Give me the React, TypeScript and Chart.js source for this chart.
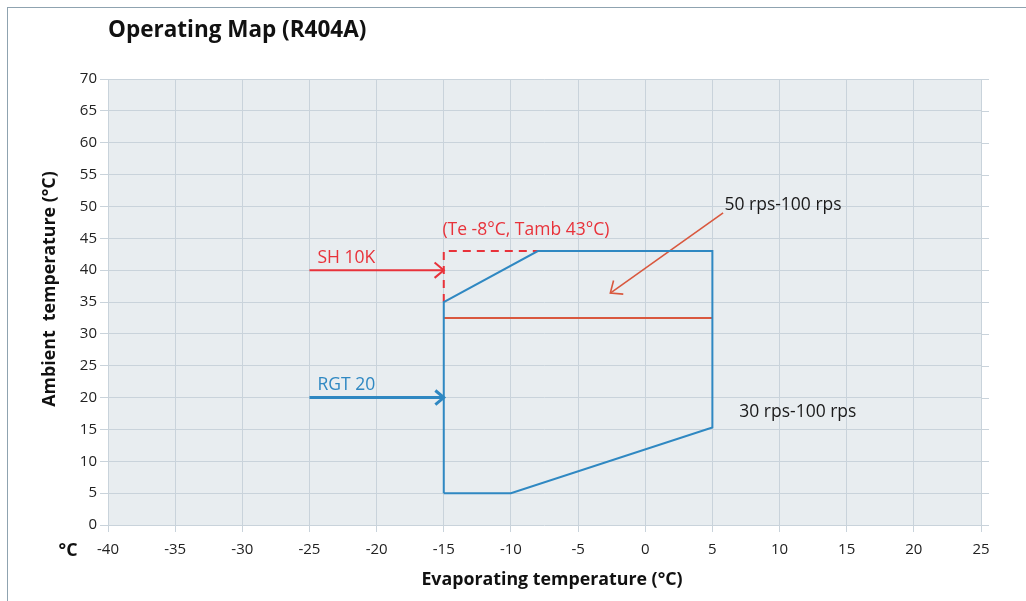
import React, { useEffect, useRef } from "react";
import { Chart, registerables } from "chart.js";

Chart.register(...registerables);

const TITLE = "Operating Map (R404A)";
const X_TITLE = "Evaporating temperature (°C)";
const Y_TITLE = "Ambient  temperature (°C)";
const X_UNIT = "°C";

const X_MIN = -40;
const X_MAX = 25;
const Y_MIN = 0;
const Y_MAX = 70;
const STEP = 5;

// Operating envelope (blue)
const envelopeX = [-15, -10, 5, 5, -8, -15, -15];
const envelopeY = [5, 5, 15.3, 43, 43, 35, 5];

// 50 rps limit line (orange-red)
const limitX = [-15, 5];
const limitY = [32.5, 32.5];

// SH 10K dashed extension (red)
const dashX = [-15, -15, -8];
const dashY = [35, 43, 43];

// arrows
const shArrowX = [-25, -15];
const shArrowY = [40, 40];
const rgtArrowX = [-25, -15];
const rgtArrowY = [20, 20];
const rpsArrowX = [5.8, -2.6];
const rpsArrowY = [49, 36.4];

// annotation labels
const labelTexts = ["SH 10K", "RGT 20", "(Te -8°C, Tamb 43°C)", "50 rps-100 rps", "30 rps-100 rps"];
const labelX = [-24.4, -24.4, -15.1, 5.9, 7.0];
const labelY = [41.9, 22.0, 46.3, 50.2, 17.7];
const labelColors = ["#e8323a", "#2f88c2", "#e8323a", "#1a1a1a", "#1a1a1a"];

const BLUE = "#2f88c2";
const RED = "#e8323a";
const ORANGE = "#d9583e";
const FONT = "'Open Sans', 'Noto Sans', sans-serif";

function pts(xs: number[], ys: number[]) {
  return xs.map((x, i) => ({ x, y: ys[i] }));
}

export default function App() {
  const ref = useRef<HTMLCanvasElement | null>(null);

  useEffect(() => {
    if (!ref.current) return;

    const decor = {
      id: "decor",
      beforeDraw(chart: any) {
        const { ctx, chartArea } = chart;
        ctx.save();
        ctx.fillStyle = "#ffffff";
        ctx.fillRect(0, 0, chart.width, chart.height);
        ctx.fillStyle = "#e8edf0";
        ctx.fillRect(chartArea.left, chartArea.top, chartArea.right - chartArea.left, chartArea.bottom - chartArea.top);
        ctx.restore();
      },
      beforeDatasetsDraw(chart: any) {
        const { ctx, chartArea } = chart;
        const ys = chart.scales.y;
        ctx.save();
        ctx.strokeStyle = "#c9d3db";
        ctx.lineWidth = 1;
        ys.ticks.forEach((t: any) => {
          const py = Math.round(ys.getPixelForValue(t.value)) + 0.5;
          ctx.beginPath();
          ctx.moveTo(chartArea.right, py);
          ctx.lineTo(chartArea.right + 8, py);
          ctx.stroke();
        });
        ctx.restore();
      },
      afterDraw(chart: any) {
        const { ctx, chartArea } = chart;
        const xs = chart.scales.x;
        const ys = chart.scales.y;
        ctx.save();

        const head = (xa: number[], ya: number[], color: string, lw: number, size: number) => {
          const n = xa.length;
          const x1 = xs.getPixelForValue(xa[n - 2]);
          const y1 = ys.getPixelForValue(ya[n - 2]);
          const x2 = xs.getPixelForValue(xa[n - 1]);
          const y2 = ys.getPixelForValue(ya[n - 1]);
          const ang = Math.atan2(y2 - y1, x2 - x1);
          ctx.strokeStyle = color;
          ctx.lineWidth = lw;
          ctx.lineJoin = "miter";
          ctx.beginPath();
          ctx.moveTo(x2 - size * Math.cos(ang - 0.7), y2 - size * Math.sin(ang - 0.7));
          ctx.lineTo(x2, y2);
          ctx.lineTo(x2 - size * Math.cos(ang + 0.7), y2 - size * Math.sin(ang + 0.7));
          ctx.stroke();
        };
        head(shArrowX, shArrowY, RED, 2, 12);
        head(rgtArrowX, rgtArrowY, BLUE, 3, 11);
        head(rpsArrowX, rpsArrowY, ORANGE, 1.6, 13);

        ctx.font = `17.5px ${FONT}`;
        ctx.textBaseline = "middle";
        ctx.textAlign = "left";
        labelTexts.forEach((t, i) => {
          ctx.fillStyle = labelColors[i];
          ctx.fillText(t, xs.getPixelForValue(labelX[i]), ys.getPixelForValue(labelY[i]));
        });

        ctx.fillStyle = "#111";
        ctx.font = `bold 22.5px ${FONT}`;
        ctx.textAlign = "left";
        ctx.textBaseline = "middle";
        ctx.fillText(TITLE, chartArea.left, 31);

        ctx.font = `bold 17.8px ${FONT}`;
        ctx.textAlign = "center";
        ctx.fillText(X_TITLE, 552, 580);
        ctx.fillText(X_UNIT, 68, 551);
        ctx.save();
        ctx.translate(50, 289);
        ctx.rotate(-Math.PI / 2);
        ctx.fillText(Y_TITLE, 0, 0);
        ctx.restore();

        ctx.restore();
      },
    };

    const chart = new Chart(ref.current, {
      type: "scatter",
      data: {
        datasets: [
          { data: pts(envelopeX, envelopeY), borderColor: BLUE, borderWidth: 2, showLine: true, pointRadius: 0, tension: 0 },
          { data: pts(limitX, limitY), borderColor: ORANGE, borderWidth: 2, showLine: true, pointRadius: 0 },
          { data: pts(dashX, dashY), borderColor: RED, borderWidth: 2, borderDash: [8, 6], showLine: true, pointRadius: 0 },
          { data: pts(shArrowX, shArrowY), borderColor: RED, borderWidth: 2, showLine: true, pointRadius: 0 },
          { data: pts(rgtArrowX, rgtArrowY), borderColor: BLUE, borderWidth: 3, showLine: true, pointRadius: 0 },
          { data: pts(rpsArrowX, rpsArrowY), borderColor: ORANGE, borderWidth: 1.6, showLine: true, pointRadius: 0 },
        ],
      },
      options: {
        animation: false,
        responsive: false,
        maintainAspectRatio: false,
        layout: { padding: { left: 48, top: 79, right: 45, bottom: 36 } },
        plugins: { legend: { display: false }, tooltip: { enabled: false }, title: { display: false } },
        scales: {
          x: {
            type: "linear",
            min: X_MIN,
            max: X_MAX,
            afterFit: (s: any) => { s.height = 40; },
            ticks: { stepSize: STEP, color: "#222", font: { family: FONT, size: 15 }, padding: 9, maxRotation: 0 },
            grid: { color: "#c9d3db", tickLength: 7, tickColor: "#c9d3db" },
            border: { display: false },
          },
          y: {
            type: "linear",
            min: Y_MIN,
            max: Y_MAX,
            afterFit: (s: any) => { s.width = 60; },
            ticks: { stepSize: STEP, color: "#222", font: { family: FONT, size: 15 }, padding: 3 },
            grid: { color: "#c9d3db", tickLength: 8, tickColor: "#c9d3db" },
            border: { display: false },
          },
        },
      },
      plugins: [decor],
    } as any);

    return () => chart.destroy();
  }, []);

  return (
    <div style={{ position: "fixed", left: 0, top: 0, width: 1026, height: 601, background: "#fff" }}>
      <canvas ref={ref} width={1026} height={601} style={{ position: "absolute", left: 0, top: 0, width: 1026, height: 601 }} />
      <div style={{ position: "absolute", left: 7, top: 7, right: -2, bottom: -2, borderLeft: "1.5px solid #8fa3b0", borderTop: "1.5px solid #8fa3b0", pointerEvents: "none" }} />
    </div>
  );
}
